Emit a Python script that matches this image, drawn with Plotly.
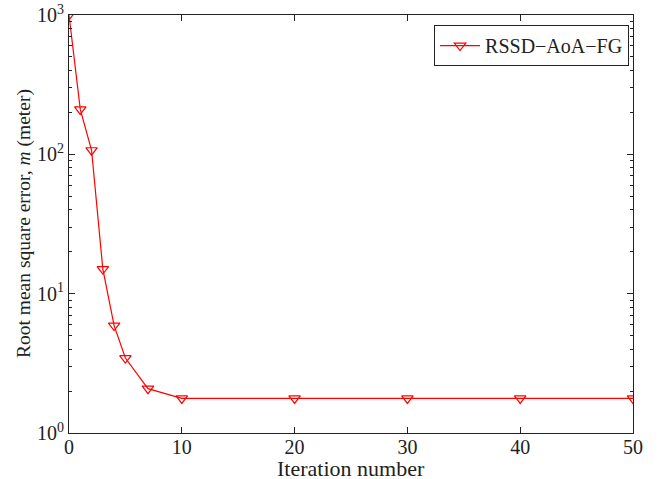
import plotly.graph_objects as go

iterations = [0, 1, 2, 3, 4, 5, 7, 10, 20, 30, 40, 50]
rmse = [1000, 210, 107, 15, 5.9, 3.45, 2.08, 1.77, 1.77, 1.77, 1.77, 1.77]
series_name = "RSSD\u2212AoA\u2212FG"
x_ticks = [0, 10, 20, 30, 40, 50]
y_ticks = [1, 10, 100, 1000]
y_ticktext = ["10<sup>0</sup>", "10<sup>1</sup>", "10<sup>2</sup>", "10<sup>3</sup>"]
y_minor = [m * d for d in (1, 10, 100) for m in range(2, 10)]
x_title = "Iteration number"
y_title = "Root mean square error, <i>m</i> (meter)"

font = "Liberation Serif, Times New Roman, serif"
fs = 20

fig = go.Figure()
fig.add_trace(go.Scatter(
    x=iterations, y=rmse, mode="lines+markers", name=series_name,
    line=dict(color="#ff0000", width=1.2),
    marker=dict(symbol="triangle-down-open", size=10, color="#ff0000",
                line=dict(width=1.2, color="#ff0000")),
))

fig.update_layout(
    width=659, height=479,
    margin=dict(l=69, r=26, t=15, b=46),
    paper_bgcolor="white", plot_bgcolor="white",
    font=dict(family=font, size=fs, color="#222"),
    showlegend=True,
    legend=dict(x=0.993, y=0.976, xanchor="right", yanchor="top",
                bordercolor="#222", borderwidth=1, bgcolor="white",
                font=dict(family=font, size=fs), itemwidth=40,
                tracegroupgap=0),
    xaxis=dict(
        range=[0, 50], tickmode="array", tickvals=x_ticks,
        ticks="inside", ticklen=6, tickcolor="#222",
        showline=True, linecolor="#222", linewidth=1, mirror="ticks",
        showgrid=False, zeroline=False, automargin=False,
        tickfont=dict(size=fs), ticklabelstandoff=-4,
    ),
    yaxis=dict(
        type="log", range=[0, 3], tickmode="array", tickvals=y_ticks,
        ticktext=y_ticktext, automargin=False,
        ticks="inside", ticklen=6, tickcolor="#222",
        showline=True, linecolor="#222", linewidth=1, mirror="ticks",
        showgrid=False, zeroline=False,
        minor=dict(tickmode="array", tickvals=y_minor, ticks="inside",
                   ticklen=3, tickcolor="#222", showgrid=False),
        tickfont=dict(size=fs),
    ),
    annotations=[
        dict(text=x_title, xref="paper", yref="paper", x=0.5, y=0,
             xanchor="center", yanchor="middle", yshift=-35, showarrow=False,
             font=dict(size=22)),
        dict(text=y_title, xref="paper", yref="paper", x=0, y=0.5,
             xanchor="center", yanchor="middle", xshift=-45, textangle=-90,
             showarrow=False, font=dict(size=19.5)),
    ],
)

fig.write_html("out.html", config={"displayModeBar": False},
               post_script="document.body.style.margin='0';document.body.style.overflow='hidden';")
